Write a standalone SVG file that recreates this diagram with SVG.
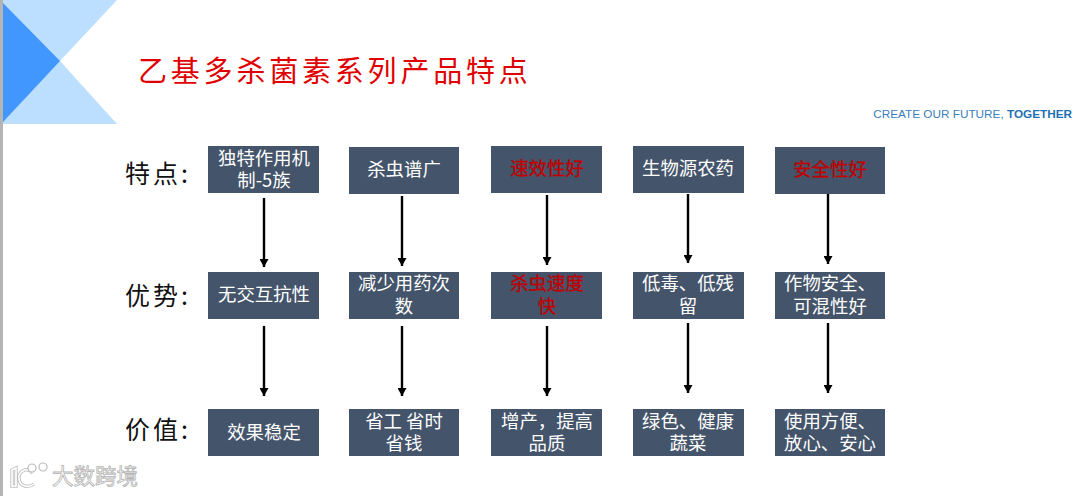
<svg xmlns="http://www.w3.org/2000/svg" width="1080" height="496" viewBox="0 0 1080 496">
<style>
text{font-family:"Noto Sans CJK SC","Liberation Sans",sans-serif}
.box{fill:#44546a}
.t{fill:#fff;font-size:18.4px;text-anchor:middle}
.r{fill:#c00000;font-size:18.4px;text-anchor:middle;stroke:#c00000;stroke-width:.3}
.lab{fill:#111;font-size:25px;letter-spacing:3px}
.c{stroke:#000;stroke-width:2.4;fill:none;marker-end:url(#a)}
.wm{fill:#fff;stroke:#b5b5b5;stroke-width:.8;font-size:21.5px}
</style>
<defs><marker id="a" markerUnits="userSpaceOnUse" markerWidth="9" markerHeight="9" refX="8" refY="4.5" orient="auto"><path d="M0 0L8 4.5L0 9Z" fill="#000"/></marker></defs>
<rect width="1080" height="496" fill="#fff"/>
<rect x="0" y="0" width="3" height="496" fill="#b4b4b4"/>
<g id="banner">
<polygon points="3,0 117,0 60,61 117,124 3,124" fill="#bddfff"/>
<polygon points="3,3 60,61 3,122" fill="#4297ff"/>
</g>
<text id="title" x="138" y="82" font-size="29" letter-spacing="3.8" fill="#e00000">乙基多杀菌素系列产品特点</text>
<text id="slogan" x="1072" y="118" text-anchor="end" font-size="11.75" style="font-family:'Liberation Sans',sans-serif" fill="#3a7ebc">CREATE OUR FUTURE, <tspan font-weight="700" fill="#1f70b4">TOGETHER</tspan></text>
<g id="labels">
<text class="lab" x="125" y="183">特点:</text>
<text class="lab" x="125" y="305">优势:</text>
<text class="lab" x="125" y="439">价值:</text>
</g>
<g id="connectors">
<path class="c" d="M264 198V267"/><path class="c" d="M264 326V396"/>
<path class="c" d="M402 196V266"/><path class="c" d="M402 326V396"/>
<path class="c" d="M547 195V265"/><path class="c" d="M547 326V396"/>
<path class="c" d="M688 194V263"/><path class="c" d="M688 323V393"/>
<path class="c" d="M828 194V264"/><path class="c" d="M828 323V393"/>
</g>
<g id="n11"><rect class="box" x="208" y="146" width="111" height="47"/><text class="t" x="264" y="165">独特作用机<tspan x="264" y="187">制-5族</tspan></text></g>
<g id="n12"><rect class="box" x="349" y="147" width="110" height="47"/><text class="t" x="404" y="176">杀虫谱广</text></g>
<g id="n13"><rect class="box" x="491" y="146" width="111" height="47"/><text class="r" x="547" y="175">速效性好</text></g>
<g id="n14"><rect class="box" x="633" y="146" width="111" height="47"/><text class="t" x="688" y="175">生物源农药</text></g>
<g id="n15"><rect class="box" x="775" y="147" width="110" height="47"/><text class="r" x="830" y="176">安全性好</text></g>
<g id="n21"><rect class="box" x="208" y="272" width="111" height="47"/><text class="t" x="264" y="301">无交互抗性</text></g>
<g id="n22"><rect class="box" x="349" y="272" width="110" height="47"/><text class="t" x="404" y="290">减少用药次<tspan x="404" y="313">数</tspan></text></g>
<g id="n23"><rect class="box" x="491" y="272" width="111" height="47"/><text class="r" x="547" y="290">杀虫速度<tspan x="547" y="313">快</tspan></text></g>
<g id="n24"><rect class="box" x="633" y="272" width="111" height="47"/><text class="t" x="688" y="290">低毒、低残<tspan x="688" y="313">留</tspan></text></g>
<g id="n25"><rect class="box" x="775" y="272" width="110" height="47"/><text class="t" x="830" y="290">作物安全、<tspan x="830" y="313">可混性好</tspan></text></g>
<g id="n31"><rect class="box" x="208" y="409" width="111" height="47"/><text class="t" x="264" y="439">效果稳定</text></g>
<g id="n32"><rect class="box" x="349" y="409" width="110" height="47"/><text class="t" x="404" y="428">省工 省时<tspan x="404" y="450">省钱</tspan></text></g>
<g id="n33"><rect class="box" x="491" y="409" width="111" height="47"/><text class="t" x="547" y="428">增产&#xFF0C;提高<tspan x="547" y="450">品质</tspan></text></g>
<g id="n34"><rect class="box" x="633" y="409" width="111" height="47"/><text class="t" x="688" y="428">绿色、健康<tspan x="688" y="450">蔬菜</tspan></text></g>
<g id="n35"><rect class="box" x="775" y="409" width="110" height="47"/><text class="t" x="830" y="428">使用方便、<tspan x="830" y="450">放心、安心</tspan></text></g>
<g id="watermark">
<path d="M12 470L16 468V486H12ZM33 473C26 466 18 472 19 479C20 487 29 488 34 484" fill="none" stroke="#c4c4c4" stroke-width="3.5"/>
<path d="M12 470L16 468V486H12ZM33 473C26 466 18 472 19 479C20 487 29 488 34 484" fill="none" stroke="#fff" stroke-width="1.6"/>
<circle cx="32" cy="468" r="4" fill="#fff" stroke="#bbb" stroke-width="1.2"/>
<circle cx="43" cy="467" r="4" fill="#fff" stroke="#bbb" stroke-width="1.2"/>
<text class="wm" x="52" y="484">大数跨境</text>
</g>
</svg>
